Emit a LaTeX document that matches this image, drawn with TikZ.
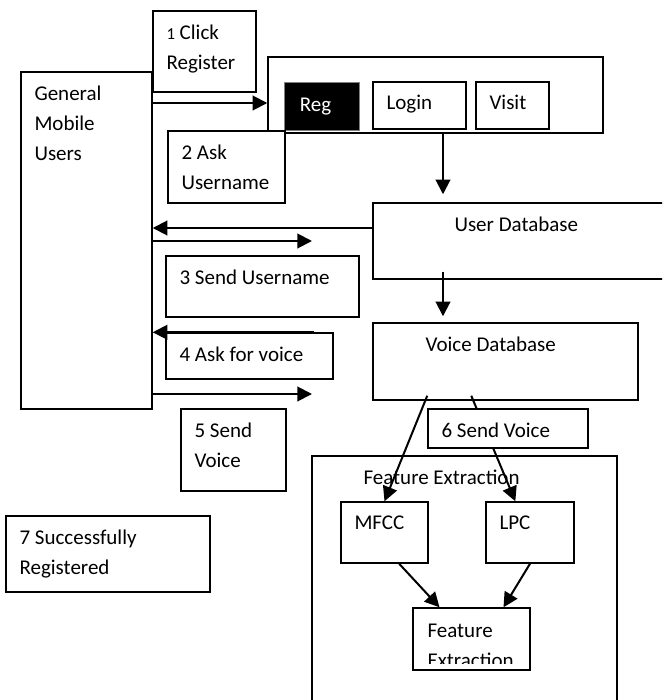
\documentclass[tikz,border=0pt]{standalone}
\usepackage{fontspec}
\setmainfont{Carlito}
\usetikzlibrary{arrows.meta,fit,calc,positioning}
\tikzset{
    box/.style ={draw, line width=1.1pt, inner sep=0pt, fill=white},
    txt/.style ={anchor=north west, inner sep=0pt, align=left, font=\fontsize{15.75}{22.5}\selectfont},
    inside/.style ={shift={(10.5pt,-10.5pt)}},
    arr/.style ={-{Triangle[length=11pt,width=11pt]}, line width=1.5pt}
}
\begin{document}
\begin{tikzpicture}[x=0.75pt, y=-0.75pt]
    \clip (0,0) rectangle (662,700);

    % Boxes
    \node[box, fit={(21,72) (152,409)}] (gmu) {};
    \node[box, fit={(153,11) (256,92)}] (click) {};
    \node[box, fit={(268,57) (603,133)}] (panel) {};
    \node[box, fill=black, draw=gray, line width=0.5pt, fit={(284,82) (359,130)}] (reg) {};
    \node[box, fit={(373,82) (466,129)}] (login) {};
    \node[box, fit={(476,82) (549,129)}] (visit) {};
    \node[box, fit={(168,131) (285,203)}] (askname) {};
    \node[box, fit={(373,203) (680,279)}] (udb) {};
    \node[box, fit={(166,256) (359,317)}] (sendname) {};
    \node[box, fit={(166,333) (333,379)}] (askvoice) {};
    \node[box, fit={(373,323) (638,400)}] (vdb) {};
    \node[box, fit={(181,409) (286,491)}] (sendvoice) {};
    \node[box, fit={(312,456) (617,720)}] (fe) {};
    \node[box, fit={(341,502) (428,563)}] (mfcc) {};
    \node[box, fit={(486,502) (574,563)}] (lpc) {};
    \node[box, fit={(413,608) (530,670)}] (feat) {};
    \node[box, fit={(6,516) (210,592)}] (done) {};

    % Texts
    \node[txt, inside] (gmut) at (gmu.north west) {General\\Mobile\\Users};
    \node[txt, inside] (clickt) at (click.north west) {{\fontsize{12.5}{22.5}\selectfont 1} Click\\Register};
    \node[txt, shift={(12pt,-12pt)}, text=white] (regt) at (reg.north west) {Reg};
    \node[txt, inside] (logint) at (login.north west) {Login};
    \node[txt, inside] (visitt) at (visit.north west) {Visit};
    \node[txt, inside] (asknamet) at (askname.north west) {2 Ask\\Username};
    \node[txt, shift={(61.5pt,-10.5pt)}] (udbt) at (udb.north west) {User Database};
    \node[txt, inside] (sendnamet) at (sendname.north west) {3 Send Username};
    \node[txt, inside] (askvoicet) at (askvoice.north west) {4 Ask for voice};
    \node[txt, shift={(39.75pt,-10.5pt)}] (vdbt) at (vdb.north west) {Voice Database};
    \node[txt, inside] (sendvoicet) at (sendvoice.north west) {5 Send\\Voice};
    \node[txt, shift={(39pt,-10.5pt)}] (fet) at (fe.north west) {Feature Extraction};
    \node[txt, inside] (mfcct) at (mfcc.north west) {MFCC};
    \node[txt, inside] (lpct) at (lpc.north west) {LPC};
    \node[txt, inside] (donet) at (done.north west) {7 Successfully\\Registered};
    \begin{scope}
        \clip (feat.north west) rectangle ($(feat.south east)+(0,-7)$);
        \node[txt, shift={(11.25pt,-12pt)}] (featt) at (feat.north west) {Feature\\Extraction};
    \end{scope}

    % Edges with arrows
    \coordinate (col) at (443,0);
    \coordinate (p1) at ([yshift=-6pt]panel.west);
    \coordinate (u4) at ($(udb.west)+(0,-13)$);
    \coordinate (s3) at (312,241);
    \coordinate (s5) at (312,394);
    \draw[arr] (gmu.east |- p1) -- (p1);
    \draw[arr, shorten >=6pt] (panel.south -| col) -- (udb.north -| col);
    \draw[arr, shorten >=4.5pt] ($(udb.south -| col)+(0,-8)$) -- (vdb.north -| col);
    \draw[arr] (u4) -- (gmu.east |- u4);
    \draw[arr] (gmu.east |- udb.west) -- (s3);
    \draw[arr] ([xshift=-15pt]askvoice.north east) -- (gmu.east |- askvoice.north);
    \draw[arr] (gmu.east |- s5) -- (s5);
    \draw[arr] ($(vdb.south west)+(55,-5)$) -- (mfcc.north);
    \draw[arr] ($(vdb.south west)+(99,-5)$) -- ([xshift=-11pt]lpc.north);
    \draw[arr] ([xshift=11pt]mfcc.south) -- ([xshift=-24pt]feat.north);
    \draw[arr] (lpc.south) -- ([xshift=24pt]feat.north);

    % 6 lies over the LPC arrow
    \node[box, fit={(428,409) (588,448)}] (sendv6) {};
    \node[txt, inside] (sendv6t) at (sendv6.north west) {6 Send Voice};

\end{tikzpicture}
\end{document}
